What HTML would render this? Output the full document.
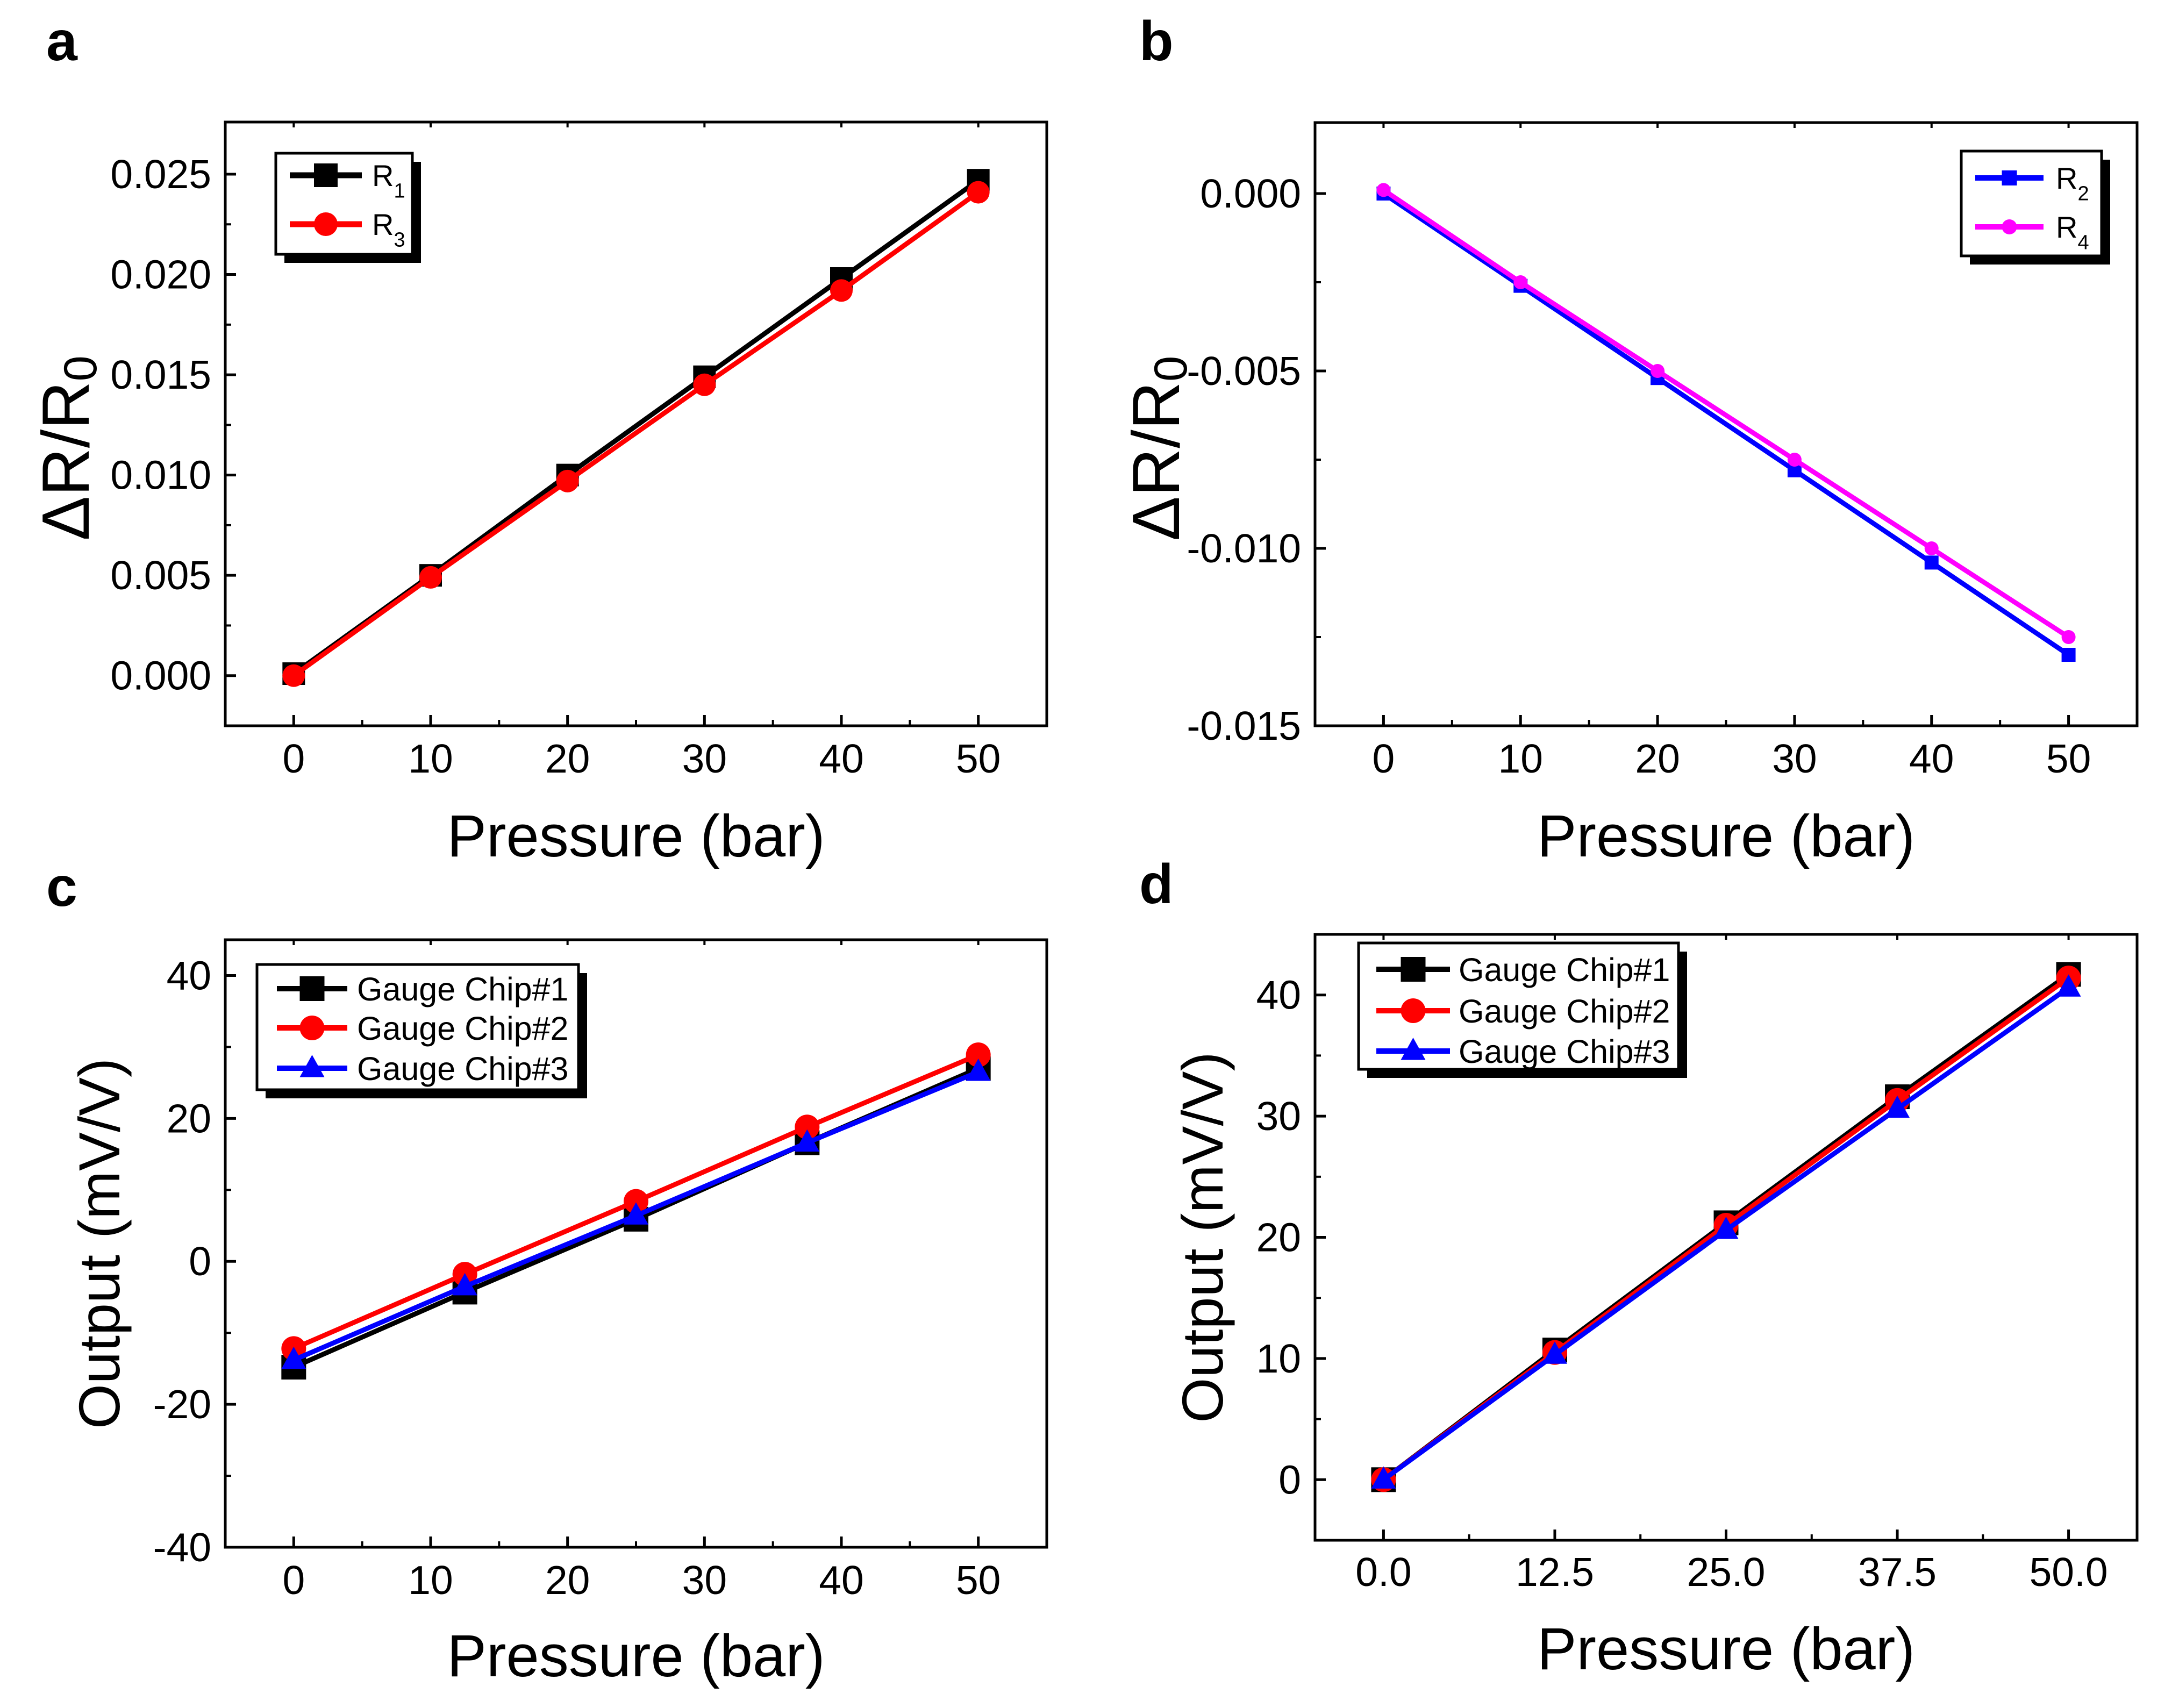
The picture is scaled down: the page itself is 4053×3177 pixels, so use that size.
<!DOCTYPE html>
<html><head><meta charset="utf-8"><style>
html,body{margin:0;padding:0;background:#fff;}
svg{display:block;}
text{font-family:"Liberation Sans",Arial,sans-serif;}
</style></head><body>
<svg id="fig" width="4053" height="3177" viewBox="0 0 4053 3177" xmlns="http://www.w3.org/2000/svg"></svg>
<script>
// ---- Panel a data ----
const aX = [0, 10, 20, 30, 40, 50];
const aR1 = [0.0001, 0.0050, 0.0100, 0.0149, 0.0198, 0.0247];
const aR3 = [0.0000, 0.0049, 0.0097, 0.0145, 0.0192, 0.0241];
const aYTicks = [0.000, 0.005, 0.010, 0.015, 0.020, 0.025];
const aYLabels = ["0.000", "0.005", "0.010", "0.015", "0.020", "0.025"];
const aXTicks = [0, 10, 20, 30, 40, 50];
const aXLabels = ["0", "10", "20", "30", "40", "50"];
// ---- Panel b data ----
const bX = [0, 10, 20, 30, 40, 50];
const bR2 = [0.0000, -0.0026, -0.0052, -0.0078, -0.0104, -0.0130];
const bR4 = [0.0001, -0.0025, -0.0050, -0.0075, -0.0100, -0.0125];
const bYTicks = [0.000, -0.005, -0.010, -0.015];
const bYLabels = ["0.000", "-0.005", "-0.010", "-0.015"];
const bXTicks = [0, 10, 20, 30, 40, 50];
const bXLabels = ["0", "10", "20", "30", "40", "50"];
// ---- Panel c data ----
const cX = [0, 12.5, 25, 37.5, 50];
const cChip1 = [-14.8, -4.3, 5.9, 16.6, 27.0];
const cChip2 = [-12.2, -1.8, 8.4, 18.8, 28.9];
const cChip3 = [-13.8, -3.5, 6.4, 16.6, 26.5];
const cYTicks = [-40, -20, 0, 20, 40];
const cYLabels = ["-40", "-20", "0", "20", "40"];
const cXTicks = [0, 10, 20, 30, 40, 50];
const cXLabels = ["0", "10", "20", "30", "40", "50"];
// ---- Panel d data ----
const dX = [0, 12.5, 25, 37.5, 50];
const dChip1 = [0.0, 10.7, 21.2, 31.6, 41.7];
const dChip2 = [0.0, 10.5, 21.0, 31.3, 41.4];
const dChip3 = [0.0, 10.3, 20.6, 30.6, 40.6];
const dYTicks = [0, 10, 20, 30, 40];
const dYLabels = ["0", "10", "20", "30", "40"];
const dXTicks = [0, 12.5, 25, 37.5, 50];
const dXLabels = ["0.0", "12.5", "25.0", "37.5", "50.0"];

const NS = "http://www.w3.org/2000/svg";
const svg = document.getElementById("fig");
function mk(tag, attrs, parent) {
  const e = document.createElementNS(NS, tag);
  for (const k in attrs) e.setAttribute(k, attrs[k]);
  (parent || svg).appendChild(e);
  return e;
}
function marker(g, type, cx, cy, size, color) {
  let m;
  if (type === "square") {
    m = mk("rect", {x: cx - size/2, y: cy - size/2, width: size, height: size, fill: color}, g);
  } else if (type === "circle") {
    m = mk("circle", {cx: cx, cy: cy, r: size/2, fill: color}, g);
  } else {
    const h = size * 0.9;
    m = mk("polygon", {points: `${cx},${cy - h*0.6} ${cx - size/2},${cy + h*0.4} ${cx + size/2},${cy + h*0.4}`, fill: color}, g);
  }
  return m;
}

function panel(cfg) {
  const g = mk("g", {});
  
  
  const L = cfg.box[0], T = cfg.box[1], R = cfg.box[2], B = cfg.box[3];
  const sx = v => L + (v - cfg.xDom[0]) / (cfg.xDom[1] - cfg.xDom[0]) * (R - L);
  const sy = v => B - (v - cfg.yDom[0]) / (cfg.yDom[1] - cfg.yDom[0]) * (B - T);

  const lt = mk("text", {x: cfg.letter[1], y: cfg.letter[2], "font-size": 104, "font-weight": "bold", fill: "#000"}, g);
  lt.textContent = cfg.letter[0];
  
  

  const fr = mk("rect", {x: L, y: T, width: R - L, height: B - T, fill: "none", stroke: "#000", "stroke-width": 5}, g);
  
  

  const xt = cfg.xTicks;
  for (let i = 0; i < xt.length; i++) {
    const x = sx(xt[i]);
    mk("line", {x1: x, y1: B, x2: x, y2: B - 20, stroke: "#000", "stroke-width": 5}, g);
    mk("line", {x1: x, y1: T, x2: x, y2: T + 10, stroke: "#000", "stroke-width": 4}, g);
    if (i < xt.length - 1) {
      const xm = sx((xt[i] + xt[i+1]) / 2);
      mk("line", {x1: xm, y1: B, x2: xm, y2: B - 11, stroke: "#000", "stroke-width": 4}, g);
    }
    const t = mk("text", {x: x, y: cfg.xLabelY, "font-size": 75, "text-anchor": "middle", fill: "#000"}, g);
    t.textContent = cfg.xLabels[i];
    
    
  }
  const yt = cfg.yTicks.slice().sort((p, q) => p - q);
  for (let i = 0; i < cfg.yTicks.length; i++) {
    const y = sy(cfg.yTicks[i]);
    mk("line", {x1: L, y1: y, x2: L + 20, y2: y, stroke: "#000", "stroke-width": 5}, g);
    const t = mk("text", {x: L - 26, y: y + 26, "font-size": 75, "text-anchor": "end", fill: "#000"}, g);
    t.textContent = cfg.yLabels[i];
    
    
  }
  for (let i = 0; i < yt.length - 1; i++) {
    const ym = sy((yt[i] + yt[i+1]) / 2);
    mk("line", {x1: L, y1: ym, x2: L + 11, y2: ym, stroke: "#000", "stroke-width": 4}, g);
  }
  const xtT = mk("text", {x: (L + R) / 2, y: cfg.xTitleY, "font-size": 110, "text-anchor": "middle", fill: "#000"}, g);
  xtT.textContent = "Pressure (bar)";
  
  
  const isDr = cfg.yTitle === "dr";
  const fsY = isDr ? 124 : 108;
  const cy = (T + B) / 2 + (isDr ? 45 : 0);
  const ytT = mk("text", {x: 0, y: 0, "font-size": fsY, "text-anchor": "middle", fill: "#000", transform: `translate(${cfg.yTitleX},${cy}) rotate(-90)`}, g);
  if (isDr) {
    ytT.textContent = "ΔR/R";
    const sub = mk("tspan", {"font-size": 86, dy: 14}, ytT);
    sub.textContent = "0";
  } else {
    ytT.textContent = "Output (mV/V)";
  }
  
  

  cfg.series.forEach(s => {
    const sg = mk("g", {}, g);
    
    
    const pts = cfg.x.map((xv, i) => sx(xv) + "," + sy(s.values[i])).join(" ");
    mk("polyline", {points: pts, fill: "none", stroke: s.color, "stroke-width": cfg.lw, "stroke-linejoin": "round"}, sg);
    cfg.x.forEach((xv, i) => {
      const m = marker(sg, s.marker, sx(xv), sy(s.values[i]), cfg.ms, s.color);
      
      
    });
  });

  const lg = cfg.legend;
  const leg = mk("g", {}, g);
  
  
  mk("rect", {x: lg.box[0] + 16, y: lg.box[1] + 16, width: lg.box[2] - lg.box[0], height: lg.box[3] - lg.box[1], fill: "#000"}, leg);
  mk("rect", {x: lg.box[0], y: lg.box[1], width: lg.box[2] - lg.box[0], height: lg.box[3] - lg.box[1], fill: "#fff", stroke: "#000", "stroke-width": 5}, leg);
  cfg.series.forEach((s, i) => {
    const eg = mk("g", {}, leg);
    
    
    const y = lg.ys[i];
    mk("line", {x1: lg.line[0], y1: y, x2: lg.line[1], y2: y, stroke: s.color, "stroke-width": lg.lw}, eg);
    marker(eg, s.marker, (lg.line[0] + lg.line[1]) / 2, y, lg.ms, s.color);
    const t = mk("text", {x: lg.textX, y: y + lg.fs * 0.36, "font-size": lg.fs, fill: "#000"}, eg);
    t.textContent = s.label;
    if (s.sub) {
      const sb = mk("tspan", {"font-size": lg.fs * 0.68, dy: lg.fs * 0.38}, t);
      sb.textContent = s.sub;
    }
  });
}

panel({
  name: "panel-a", letter: ["a", 86, 112], box: [419, 227, 1947, 1350],
  xDom: [-5, 55], yDom: [-0.0025, 0.0276],
  xTicks: aXTicks, xLabels: aXLabels, yTicks: aYTicks, yLabels: aYLabels,
  xLabelY: 1437, xTitleY: 1593, yTitleX: 165, yTitle: "dr", x: aX, lw: 9, ms: 42,
  series: [
    {key: "r1", label: "R", sub: "1", values: aR1, color: "#000000", marker: "square"},
    {key: "r3", label: "R", sub: "3", values: aR3, color: "#ff0000", marker: "circle"}
  ],
  legend: {box: [513, 285, 767, 473], ys: [326, 417], line: [539, 673], lw: 11, ms: 44, textX: 692, fs: 56}
});
panel({
  name: "panel-b", letter: ["b", 2119, 112], box: [2446, 228, 3975, 1350],
  xDom: [-5, 55], yDom: [-0.015, 0.002],
  xTicks: bXTicks, xLabels: bXLabels, yTicks: bYTicks, yLabels: bYLabels,
  xLabelY: 1437, xTitleY: 1593, yTitleX: 2193, yTitle: "dr", x: bX, lw: 9, ms: 26,
  series: [
    {key: "r2", label: "R", sub: "2", values: bR2, color: "#0000ff", marker: "square"},
    {key: "r4", label: "R", sub: "4", values: bR4, color: "#ff00ff", marker: "circle"}
  ],
  legend: {box: [3648, 281, 3909, 476], ys: [331, 422], line: [3674, 3801], lw: 10, ms: 28, textX: 3824, fs: 56}
});
panel({
  name: "panel-c", letter: ["c", 86, 1685], box: [419, 1748, 1947, 2878],
  xDom: [-5, 55], yDom: [-40, 45],
  xTicks: cXTicks, xLabels: cXLabels, yTicks: cYTicks, yLabels: cYLabels,
  xLabelY: 2965, xTitleY: 3118, yTitleX: 222, yTitle: "out", x: cX, lw: 9, ms: 46,
  series: [
    {key: "chip1", label: "Gauge Chip#1", values: cChip1, color: "#000000", marker: "square"},
    {key: "chip2", label: "Gauge Chip#2", values: cChip2, color: "#ff0000", marker: "circle"},
    {key: "chip3", label: "Gauge Chip#3", values: cChip3, color: "#0000ff", marker: "triangle"}
  ],
  legend: {box: [478, 1794, 1076, 2027], ys: [1839, 1912, 1987], line: [515, 646], lw: 10, ms: 46, textX: 664, fs: 61}
});
panel({
  name: "panel-d", letter: ["d", 2119, 1680], box: [2446, 1738, 3975, 2865],
  xDom: [-5, 55], yDom: [-5, 45],
  xTicks: dXTicks, xLabels: dXLabels, yTicks: dYTicks, yLabels: dYLabels,
  xLabelY: 2950, xTitleY: 3105, yTitleX: 2274, yTitle: "out", x: dX, lw: 9, ms: 46,
  series: [
    {key: "chip1", label: "Gauge Chip#1", values: dChip1, color: "#000000", marker: "square"},
    {key: "chip2", label: "Gauge Chip#2", values: dChip2, color: "#ff0000", marker: "circle"},
    {key: "chip3", label: "Gauge Chip#3", values: dChip3, color: "#0000ff", marker: "triangle"}
  ],
  legend: {box: [2527, 1754, 3122, 1989], ys: [1803, 1880, 1955], line: [2560, 2697], lw: 10, ms: 46, textX: 2713, fs: 61}
});
</script>
</body></html>
